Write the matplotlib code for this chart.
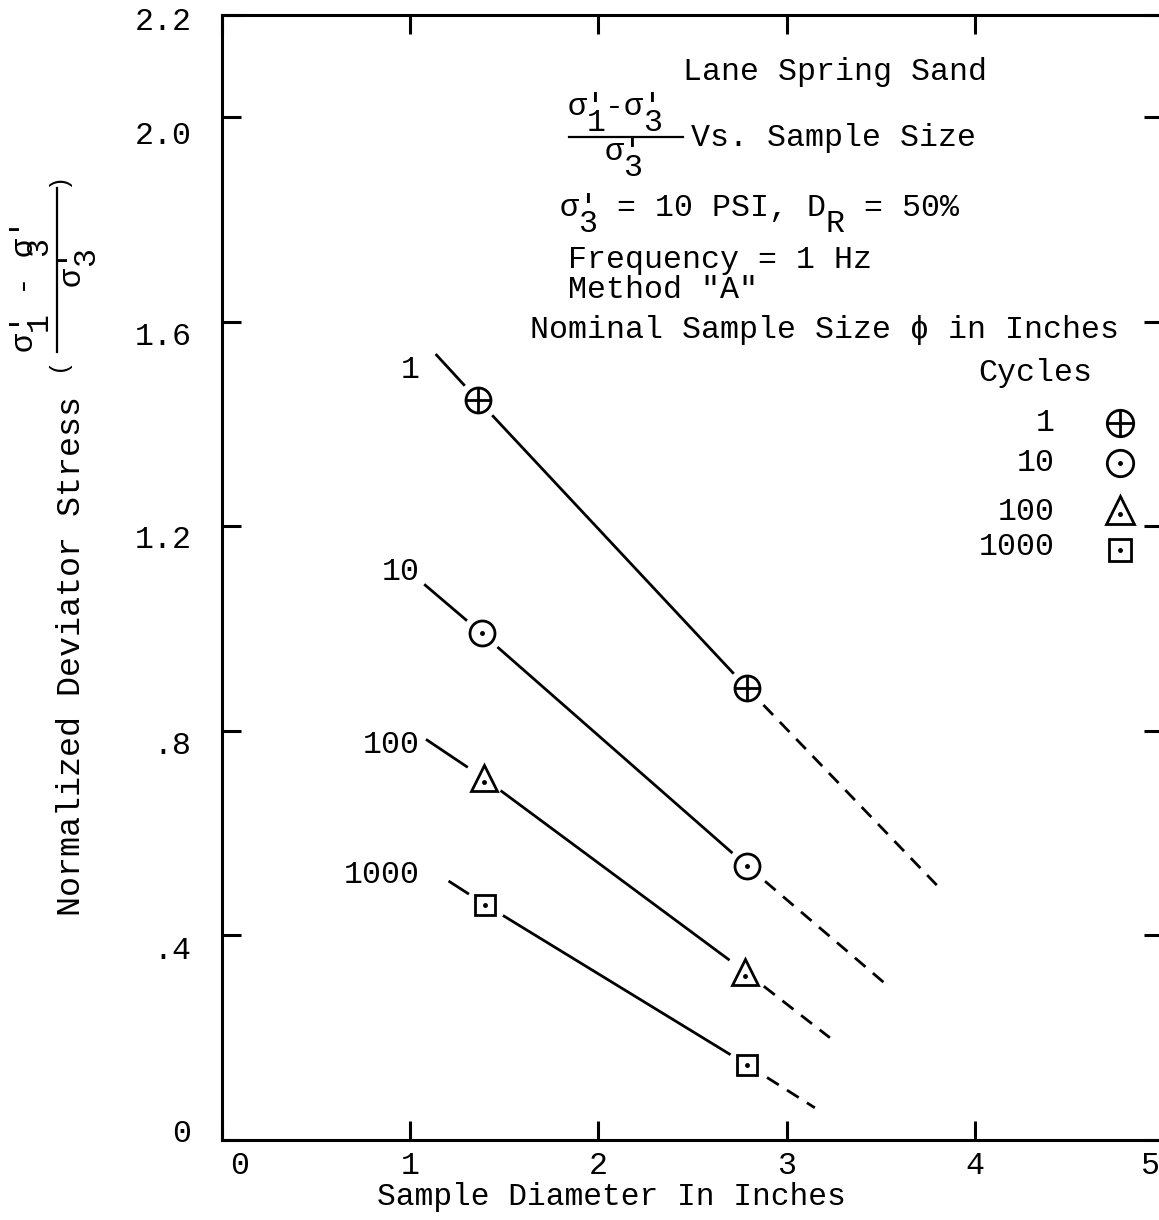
import matplotlib
matplotlib.use("Agg")
import matplotlib.pyplot as plt
import matplotlib.transforms as mtransforms
from matplotlib.lines import Line2D
from matplotlib.font_manager import FontProperties

plt.rcParams['font.family'] = ['Liberation Mono', 'DejaVu Sans']

# cycles -> two measured points plus the extent of the drawn line
cycles = ['1', '10', '100', '1000']
markers = ['oplus', 'odot', 'tridot', 'sqdot']
x_pts = [[1.36, 2.79], [1.38, 2.79], [1.39, 2.78], [1.40, 2.79]]
y_pts = [[1.447, 0.884], [0.991, 0.536], [0.708, 0.329], [0.460, 0.147]]
line_start = [(1.14, 1.535), (1.08, 1.085), (1.09, 0.782), (1.21, 0.505)]
line_end = [(3.82, 0.49), (3.52, 0.307), (3.23, 0.20), (3.15, 0.063)]

xticks = [0, 1, 2, 3, 4, 5]
yticks = [0, 0.4, 0.8, 1.2, 1.6, 2.0, 2.2]
ytick_labels = ['0', '.4', '.8', '1.2', '1.6', '2.0', '2.2']

fs = 22.8
W, H = 1159, 1220

fig = plt.figure(figsize=(W / 100, H / 100), dpi=100)
# pixel coords measured from the top-left corner, used for the typed labels
pix = mtransforms.Affine2D().scale(1, -1).translate(0, H)

ax = fig.add_axes([222 / W, 1 - 1140 / H, (1163 - 222) / W, (1140 - 15) / H])
ax.set_xlim(0, 5)
ax.set_ylim(0, 2.2)

for s in ax.spines.values():
    s.set_linewidth(2.2)
ax.set_xticks(xticks)
ax.set_xticklabels([str(t) for t in xticks])
ax.set_yticks(yticks)
ax.set_yticklabels(ytick_labels)
ax.tick_params(direction='in', length=14, width=2.2, labelsize=fs,
               top=True, right=True)
ax.tick_params(axis='x', pad=8)
ax.tick_params(axis='y', pad=22)


def nudge(lbl, dx_px, dy_px):
    lbl.set_transform(lbl.get_transform() +
                      mtransforms.ScaledTranslation(dx_px / 100, -dy_px / 100, fig.dpi_scale_trans))


# the scanned original has its labels typed slightly off the ticks
xl = ax.get_xticklabels()
nudge(xl[0], 18, 0)
nudge(xl[-1], -13, 0)
for lbl, dy in zip(ax.get_yticklabels(), [-10, 12, 12, 10, 12, 15, 4]):
    nudge(lbl, 0, dy)


def draw_marker(x, y, kind, ms=18):
    ax.plot(x, y, 'o', ms=ms + 10, color='white', zorder=3)
    kw = dict(mfc='white', mec='black', mew=2, zorder=4, linestyle='none')
    if kind == 'oplus':
        ax.plot(x, y, 'o', ms=ms, **kw)
        ax.plot(x, y, '+', ms=ms, mec='black', mew=2, zorder=5)
    elif kind == 'odot':
        ax.plot(x, y, 'o', ms=ms, **kw)
        ax.plot(x, y, 'o', ms=2.5, color='black', zorder=5)
    elif kind == 'tridot':
        ax.plot(x, y, '^', ms=ms + 1, **kw)
        ax.plot(x, y - 0.008, 'o', ms=2.5, color='black', zorder=5)
    else:
        ax.plot(x, y, 's', ms=ms - 3, **kw)
        ax.plot(x, y, 'o', ms=2.5, color='black', zorder=5)


def put(s, x, y, ha='center', size=fs, **kw):
    fig.text(x, y, s, transform=pix, fontsize=size, ha=ha, va='baseline', **kw)


# typewriter half line feed: two lines in one text, second one dropped by `drop` px
_, lp_h, lp_d = fig.canvas.get_renderer().get_text_width_height_descent(
    'lp', FontProperties(family='Liberation Mono', size=fs), ismath=False)
asc = lp_h - lp_d


def typed(top, bottom, x, base, drop=16, rot=0):
    ls = (drop - lp_d) / asc
    # anchor on the top of the first line
    if rot:
        xy = (base - asc, x)
    else:
        xy = (x, base - asc)
    fig.text(xy[0], xy[1], top + '\n' + bottom, transform=pix, fontsize=fs,
             ha='left', va='top', multialignment='left', linespacing=ls,
             rotation=rot, rotation_mode='anchor')


for i, c in enumerate(cycles):
    xs, ys = line_start[i]
    xe, ye = line_end[i]
    ax.plot([xs, x_pts[i][0], x_pts[i][1]], [ys, y_pts[i][0], y_pts[i][1]],
            color='black', lw=2, zorder=2)
    ax.plot([x_pts[i][1], xe], [y_pts[i][1], ye], color='black', lw=2,
            dashes=(5, 3.5), zorder=2)
    for xp, yp in zip(x_pts[i], y_pts[i]):
        draw_marker(xp, yp, markers[i])

# curve labels
for c, yb in zip(cycles, [378, 580, 753, 883]):
    put(c, 420, yb, ha='right')

# legend block
put('Cycles', 1035, 381)
leg_y = [1.402, 1.324, 1.232, 1.154]
for i, c in enumerate(cycles):
    put(c, 1055, [431, 471, 520, 555][i], ha='right')
    draw_marker(4.77, leg_y[i], markers[i], ms=19)

# title block
put('Lane Spring Sand', 683, 80, ha='left')
typed("σ'-σ'", " 1  3", 568, 115)
fig.add_artist(Line2D([569, 683], [137, 137], transform=pix, color='black', lw=1.6))
typed("σ'", " 3", 605, 160)
put('Vs. Sample Size', 691, 146, ha='left')
typed("σ' = 10 PSI, D  = 50%", " 3            R", 560, 216)
put('Frequency = 1 Hz', 568, 268, ha='left')
put('Method "A"', 568, 298, ha='left')
put('Nominal Sample Size ϕ in Inches', 530, 338, ha='left')

put('Sample Diameter In Inches', 611, 1205, size=22.5)

# y label, typed sideways
fig.text(80, 656, 'Normalized Deviator Stress', transform=pix, fontsize=24,
         rotation=90, rotation_mode='anchor', ha='center', va='baseline')
fig.text(64, 364, '(', transform=pix, fontsize=17, rotation=90,
         rotation_mode='anchor', ha='center', va='baseline')
fig.text(64, 180, ')', transform=pix, fontsize=17, rotation=90,
         rotation_mode='anchor', ha='center', va='baseline')
fig.add_artist(Line2D([57, 57], [188, 352], transform=pix, color='black', lw=1.6))
typed("σ' - σ'", " 1   3", 352, 33, rot=90)
typed("σ'", " 3", 286, 80, rot=90)

fig.savefig('out.png', dpi=100)
